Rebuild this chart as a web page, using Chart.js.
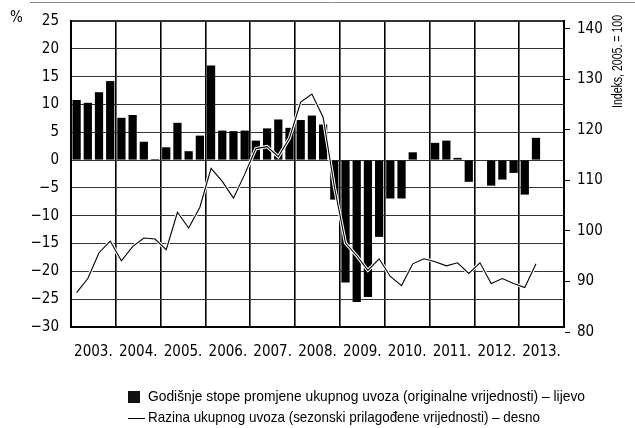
<!DOCTYPE html>
<html><head><meta charset="utf-8">
<script src="https://cdn.jsdelivr.net/npm/chart.js@4.4.1/dist/chart.umd.min.js"></script>
<style>html,body{margin:0;padding:0;background:#fff;}#wrap{width:635px;height:428px;position:relative;}</style>
</head><body><div id="wrap"><canvas id="c" width="635" height="428"></canvas></div>
<script>
// ---- data ----
const years = ['2003.','2004.','2005.','2006.','2007.','2008.','2009.','2010.','2011.','2012.','2013.'];
const firstYear = 2003;
const quartersPerYear = 4;
// Annual growth rates of total imports (original values), %, quarterly 2003Q1-2013Q2 (left axis)
const importGrowth = [
  10.8, 10.3, 12.2, 14.2,
  7.6, 8.1, 3.3, 0.2,
  2.3, 6.7, 1.6, 4.4,
  17.0, 5.3, 5.2, 5.3,
  3.5, 5.7, 7.3, 5.8,
  7.2, 8.0, 6.4, -7.1,
  -22.0, -25.5, -24.6, -13.8,
  -6.9, -6.9, 1.4, 0.0,
  3.1, 3.5, 0.4, -3.9,
  -0.1, -4.6, -3.5, -2.3,
  -6.2, 4.0
];
// Level of total imports (seasonally adjusted), index 2005 = 100, quarterly (right axis)
const importLevel = [
  87.8, 90.6, 95.7, 98.0,
  94.1, 96.9, 98.6, 98.4,
  96.3, 103.7, 100.6, 104.7,
  112.4, 109.8, 106.5, 111.2,
  116.3, 116.7, 114.7, 118.4,
  125.5, 127.1, 122.5, 108.8,
  97.6, 95.1, 92.2, 94.5,
  91.0, 89.2, 93.5, 94.5,
  93.9, 93.1, 93.7, 91.6,
  93.7, 89.6, 90.6, 89.6,
  88.8, 93.5
];
const leftTicks = [-30,-25,-20,-15,-10,-5,0,5,10,15,20,25];
const rightTicks = [80,90,100,110,120,130,140];
const leftUnit = '%';
const rightTitle = 'Indeks, 2005. = 100';
const legendLabels = [
  'Godišnje stope promjene ukupnog uvoza (originalne vrijednosti) – lijevo',
  'Razina ukupnog uvoza (sezonski prilagođene vrijednosti) – desno'
];

const FONT = "'Liberation Sans Narrow','DejaVu Sans Condensed','Liberation Sans',sans-serif";
const TEXTFONT = "'Liberation Sans',Arial,sans-serif";
const qx = i => firstYear + (i + 0.5) / quartersPerYear;
const barPts = importGrowth.map((v, i) => ({x: qx(i), y: v}));
const linePts = importLevel.map((v, i) => ({x: qx(i), y: v}));
const minus = v => String(v).replace('-', '\u2212');

// draw text condensed horizontally to a given width
function fitText(ctx, text, x, y, width) {
  const w = ctx.measureText(text).width;
  const k = Math.min(1, width / w);
  ctx.save();
  ctx.translate(x, y);
  ctx.scale(k, 1);
  ctx.fillText(text, 0, 0);
  ctx.restore();
}

const extras = {
  id: 'extras',
  afterDraw(chart) {
    const ctx = chart.ctx;
    ctx.save();
    ctx.strokeStyle = '#888'; ctx.lineWidth = 1;
    ctx.beginPath(); ctx.moveTo(30, 2.5); ctx.lineTo(635, 2.5); ctx.stroke();
    ctx.fillStyle = '#000';
    ctx.font = '15px ' + FONT;
    ctx.textBaseline = 'middle'; ctx.textAlign = 'left';
    ctx.fillText(leftUnit, 10, 18);
    // right axis title rotated
    ctx.save();
    ctx.translate(618, 108);
    ctx.rotate(-Math.PI / 2);
    ctx.font = '15px ' + TEXTFONT;
    fitText(ctx, rightTitle, 0, 0, 93);
    ctx.restore();
    // legend
    ctx.font = '15px ' + TEXTFONT;
    ctx.fillStyle = '#111';
    ctx.fillRect(128, 391, 12, 12);
    ctx.fillStyle = '#000';
    fitText(ctx, legendLabels[0], 148, 397, 437);
    ctx.strokeStyle = '#000'; ctx.lineWidth = 1;
    ctx.beginPath(); ctx.moveTo(128, 418.5); ctx.lineTo(145, 418.5); ctx.stroke();
    fitText(ctx, legendLabels[1], 148, 418, 392);
    ctx.restore();
  }
};

new Chart(document.getElementById('c'), {
  type: 'bar',
  data: {
    datasets: [
      { type: 'line', data: linePts, yAxisID: 'y2', xAxisID: 'x', borderColor: '#000', borderWidth: 1.1,
        pointRadius: 0, tension: 0, order: 1 },
      { type: 'line', data: linePts, yAxisID: 'y2', xAxisID: 'x', borderColor: '#fff', borderWidth: 3.2,
        pointRadius: 0, tension: 0, order: 2 },
      { type: 'bar', data: barPts, yAxisID: 'y', xAxisID: 'x', backgroundColor: '#000',
        categoryPercentage: 0.8, barPercentage: 0.92, order: 3 }
    ]
  },
  options: {
    responsive: false, devicePixelRatio: 1, animation: false,
    layout: { padding: { left: 0, right: 0, top: 17, bottom: 71 } },
    plugins: { legend: { display: false }, tooltip: { enabled: false } },
    scales: {
      x: {
        type: 'linear', position: 'bottom', min: firstYear, max: firstYear + years.length,
        offset: false,
        afterFit: s => { s.height = 0; },
        ticks: { display: false, stepSize: 1 },
        grid: { offset: false, drawTicks: false, color: '#000',
          lineWidth: c => (c.index === 0 || c.index === years.length) ? 2 : 1.6 },
        border: { display: true, color: '#000', width: 2 }
      },
      xl: {
        type: 'linear', position: 'bottom', min: firstYear - 0.5, max: firstYear + years.length - 0.5,
        offset: false,
        afterFit: s => { s.height = 30; },
        afterBuildTicks: s => { s.ticks = years.map((y, i) => ({ value: firstYear + i })); },
        ticks: { autoSkip: false, maxRotation: 0, padding: 16, color: '#000',
          font: { family: FONT, size: 15 },
          callback: (v) => years[Math.round(v - firstYear)] },
        grid: { display: false, drawTicks: false },
        border: { display: false }
      },
      y: {
        type: 'linear', position: 'left', min: -30, max: 25,
        afterFit: s => { s.width = 71; },
        afterBuildTicks: s => { s.ticks = leftTicks.map(v => ({ value: v })); },
        ticks: { padding: 12, color: '#000', font: { family: FONT, size: 15 }, callback: v => minus(v) },
        grid: { drawTicks: false, color: '#333',
          lineWidth: c => (c.index === 0 || c.index === leftTicks.length - 1) ? 2 : 1 },
        border: { display: true, color: '#000', width: 2 }
      },
      y2: {
        type: 'linear', position: 'right', min: 81.0, max: 141.55,
        afterFit: s => { s.width = 71; },
        afterBuildTicks: s => { s.ticks = rightTicks.map(v => ({ value: v })); },
        ticks: { padding: 7, color: '#000', font: { family: FONT, size: 15 } },
        grid: { drawOnChartArea: false, drawTicks: true, tickLength: 6, color: '#000', lineWidth: 1 },
        border: { display: true, color: '#000', width: 2 }
      }
    }
  },
  plugins: [extras]
});
</script></body></html>
